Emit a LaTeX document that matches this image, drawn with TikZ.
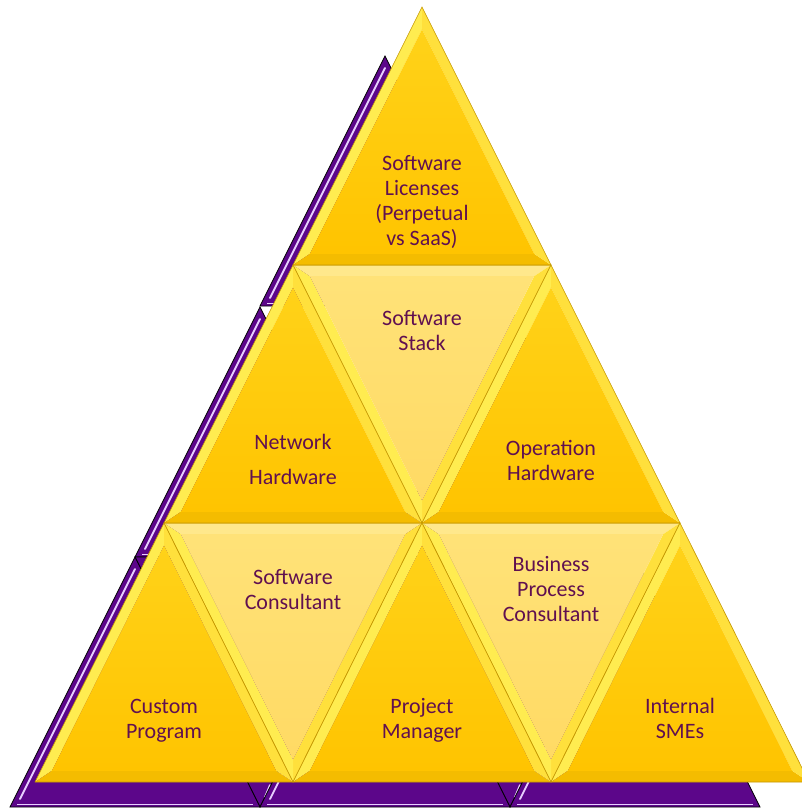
\documentclass[tikz,border=0pt]{standalone}
\usepackage{fontspec}
\setmainfont{Carlito}
\usetikzlibrary{calc}
\definecolor{txt}{RGB}{96,16,80}
\definecolor{pfillc}{RGB}{92,6,138}
\definecolor{phlc}{RGB}{232,208,255}
\definecolor{goldA}{RGB}{255,210,25}
\definecolor{goldB}{RGB}{255,196,0}
\definecolor{liteA}{RGB}{255,226,120}
\definecolor{liteB}{RGB}{255,218,100}
\definecolor{bevL}{RGB}{255,236,80}
\definecolor{bevR}{RGB}{255,224,60}
\definecolor{bevD}{RGB}{244,188,0}
\definecolor{bevT}{RGB}{255,232,140}
\definecolor{edgec}{RGB}{196,150,0}
\tikzset{
  upface/.style={top color=goldA,bottom color=goldB},
  dnface/.style={top color=liteA,bottom color=liteB},
  bl/.style={fill=bevL}, br/.style={fill=bevR}, bd/.style={fill=bevD}, bt/.style={fill=bevT},
  facetedge/.style={draw=edgec,line width=0.6pt,line join=miter},
  pfill/.style={fill=pfillc,draw=black,line width=0.7pt},
  phl/.style={draw=phlc,line width=1.8pt,line cap=round},
  lbl/.style={text=txt,align=center,font=\fontsize{22}{25}\selectfont,inner sep=0pt}
}
\newcommand\facet[7]{%
  \coordinate (fa) at #1; \coordinate (fb) at #2; \coordinate (fc) at #3;
  \coordinate (fm) at ($0.3333*(fa)+0.3333*(fb)+0.3334*(fc)$);
  \coordinate (ia) at ($(fm)!0.87!(fa)$);
  \coordinate (ib) at ($(fm)!0.87!(fb)$);
  \coordinate (ic) at ($(fm)!0.87!(fc)$);
  \path[#5] (fa)--(fb)--(ib)--(ia)--cycle;
  \path[#6] (fb)--(fc)--(ic)--(ib)--cycle;
  \path[#7] (fc)--(fa)--(ia)--(ic)--cycle;
  \path[#4] (ia)--(ib)--(ic)--cycle;
  \path[facetedge] (fa)--(fb)--(fc)--cycle;
}
\newcommand\ptri[2]{%
  \path[pfill] (#1,#2)--({#1-125},{#2+250})--({#1+125},{#2+250})--cycle;
  \draw[phl] (#1,{#2+12})--({#1-115},{#2+242});
  \draw[draw=phlc,line width=1pt] ({#1-118},{#2+247})--({#1+118},{#2+247});
}
\newcommand\pinv[2]{%
  \path[pfill] (#1,#2)--({#1+250},#2)--({#1+125},{#2+250})--cycle;
  \draw[phl] ({#1+130},{#2+240})--({#1+135},{#2+228});
}
\begin{document}
\begin{tikzpicture}[x=1pt,y=-1pt]
\useasboundingbox (0,0) rectangle (802,809);
\begin{scope}
\clip (0,0) rectangle (802,809);
% purple back layer
\ptri{385}{56}
\ptri{260}{307}
\ptri{510}{307}
\pinv{135}{557}
\pinv{385}{557}
\ptri{135}{557}
\ptri{385}{557}
\ptri{635}{557}
% inverted yellow facets
\facet{(293,265)}{(551,265)}{(422,523)}{dnface}{bt}{br}{bl}
\facet{(164,523)}{(422,523)}{(293,782)}{dnface}{bt}{br}{bl}
\facet{(422,523)}{(680,523)}{(551,782)}{dnface}{bt}{br}{bl}
% upward yellow facets
\facet{(422,7)}{(293,265)}{(551,265)}{upface}{bl}{bd}{br}
\facet{(293,265)}{(164,523)}{(422,523)}{upface}{bl}{bd}{br}
\facet{(551,265)}{(422,523)}{(680,523)}{upface}{bl}{bd}{br}
\facet{(164,523)}{(35,782)}{(293,782)}{upface}{bl}{bd}{br}
\facet{(422,523)}{(293,782)}{(551,782)}{upface}{bl}{bd}{br}
\facet{(680,523)}{(551,782)}{(809,782)}{upface}{bl}{bd}{br}
\end{scope}
% labels
\node[lbl] (lic) at (422,202) {Software\\Licenses\\(Perpetual\\vs SaaS)};
\node[lbl] (stack) at (422,331) {Software\\Stack};
\node[lbl,font=\fontsize{22}{35}\selectfont] (net) at (293,459) {Network\\Hardware};
\node[lbl] (op) at (551,460) {Operation\\Hardware};
\node[lbl] (swc) at (293,590) {Software\\Consultant};
\node[lbl] (bpc) at (551,589) {Business\\Process\\Consultant};
\node[lbl] (cp) at (164,721) {Custom\\Program};
\node[lbl] (pm) at (422,720) {Project\\Manager};
\node[lbl] (sme) at (680,718) {Internal\\SMEs};
\end{tikzpicture}
\end{document}
